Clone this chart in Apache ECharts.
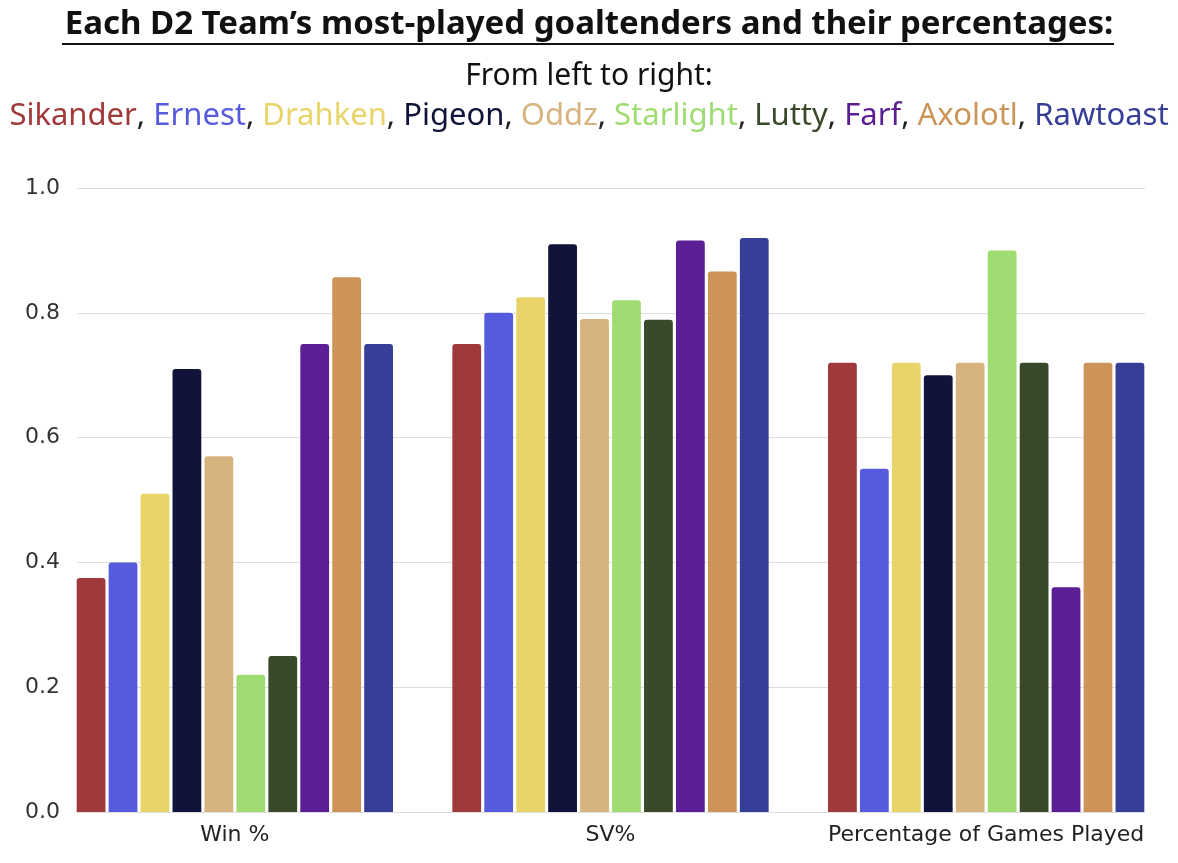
<!DOCTYPE html>
<html>
<head>
<meta charset="utf-8">
<title>D2 goaltenders</title>
<script src="https://cdn.jsdelivr.net/npm/echarts@6/dist/echarts.min.js"></script>
<style>
  html, body { margin: 0; padding: 0; background: #fff; }
  #main { width: 1178px; height: 863px; }
</style>
</head>
<body>
<div id="main"></div>
<script>
var categories = ['Win %', 'SV%', 'Percentage of Games Played'];
var goalies = ['Sikander', 'Ernest', 'Drahken', 'Pigeon', 'Oddz', 'Starlight', 'Lutty', 'Farf', 'Axolotl', 'Rawtoast'];
var colors = ['#a03a3a', '#565bdd', '#e9d46a', '#10133a', '#d7b47f', '#9fdc72', '#384a29', '#5b1e94', '#cc9457', '#373e98'];
// [win %, sv %, games played %] per goalie
var values = [
  [0.375, 0.75, 0.72],
  [0.40, 0.80, 0.55],
  [0.51, 0.825, 0.72],
  [0.71, 0.91, 0.70],
  [0.57, 0.79, 0.72],
  [0.22, 0.82, 0.90],
  [0.25, 0.789, 0.72],
  [0.75, 0.916, 0.36],
  [0.857, 0.866, 0.72],
  [0.75, 0.92, 0.72]
];
var yTicks = [0, 0.2, 0.4, 0.6, 0.8, 1.0];

var myChart = echarts.init(document.getElementById('main'));

// colored names line
var nameFont = { fontSize: 31, fontWeight: 'normal', fontFamily: 'Noto Sans' };
var rich = { sep: Object.assign({ color: '#222' }, nameFont) };
var parts = [];
goalies.forEach(function (g, i) {
  rich['n' + i] = Object.assign({ color: colors[i] }, nameFont);
  parts.push('{n' + i + '|' + g + '}');
});
var namesText = parts.join('{sep|, }');

var series = goalies.map(function (g, i) {
  return {
    name: g,
    type: 'bar',
    xAxisIndex: 0,
    yAxisIndex: 0,
    barCategoryGap: '15.8%',
    barGap: '11%',
    itemStyle: { color: colors[i], borderRadius: [3, 3, 0, 0] },
    data: values[i]
  };
});

var option = {
  animation: false,
  backgroundColor: '#fff',
  title: [
    {
      text: 'Each D2 Team\u2019s most-played goaltenders and their percentages:',
      left: 'center',
      top: 3,
      textStyle: { fontSize: 33, fontWeight: 'bold', color: '#111', fontFamily: 'Noto Sans' }
    },
    {
      text: 'From left to right:',
      left: 'center',
      top: 56,
      textStyle: { fontSize: 30, fontWeight: 'normal', color: '#111', fontFamily: 'Noto Sans' }
    },
    {
      text: namesText,
      left: 'center',
      top: 96,
      textStyle: Object.assign({ rich: rich }, nameFont)
    }
  ],
  graphic: [
    {
      type: 'line',
      shape: { x1: 62, y1: 44, x2: 1114, y2: 44 },
      style: { stroke: '#111', lineWidth: 2 }
    }
  ],
  grid: [
    { left: 47, right: 4, top: 188, bottom: 51 },
    { left: 77, right: 33, top: 188, bottom: 51 }
  ],
  xAxis: [
    {
      type: 'category',
      gridIndex: 0,
      data: categories,
      axisLine: { show: false },
      axisTick: { show: false },
      axisLabel: { interval: 0, fontSize: 22, color: '#222', margin: 12, fontFamily: 'DejaVu Sans' }
    },
    {
      type: 'category',
      gridIndex: 1,
      data: categories,
      show: false
    }
  ],
  yAxis: [
    {
      type: 'value',
      gridIndex: 0,
      min: 0,
      max: 1,
      interval: 0.2,
      axisLabel: { show: false },
      axisLine: { show: false },
      axisTick: { show: false },
      splitLine: { show: false }
    },
    {
      type: 'value',
      gridIndex: 1,
      min: yTicks[0],
      max: yTicks[yTicks.length - 1],
      interval: 0.2,
      axisLine: { show: false },
      axisTick: { show: false },
      axisLabel: {
        fontSize: 22,
        color: '#333',
        margin: 17,
        fontFamily: 'DejaVu Sans',
        formatter: function (v) { return v.toFixed(1); }
      },
      splitLine: { lineStyle: { color: '#dedede', width: 1 } }
    }
  ],
  series: series
};

option && myChart.setOption(option);
</script>
</body>
</html>
